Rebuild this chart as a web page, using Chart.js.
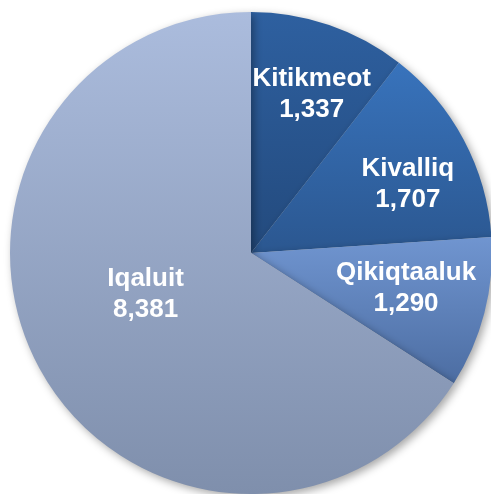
<!DOCTYPE html>
<html>
<head>
<meta charset="utf-8">
<script src="https://cdn.jsdelivr.net/npm/chart.js@4/dist/chart.umd.min.js"></script>
<style>
html,body{margin:0;padding:0;background:#fff;overflow:hidden;width:491px;height:494px;}
#wrap{position:absolute;left:0;top:0;width:502px;height:506px;}
</style>
</head>
<body>
<div id="wrap"><canvas id="c" width="502" height="506"></canvas></div>
<script>
const categories = ["Kitikmeot", "Kivalliq", "Qikiqtaaluk", "Iqaluit"];
const values = [1337, 1707, 1290, 8381];
const valueLabels = ["1,337", "1,707", "1,290", "8,381"];

const topColors = ["#2e60a0", "#3873bc", "#7095d0", "#abbcdd"];
const bottomColors = ["#234a7d", "#2b5790", "#4c6da2", "#7f8fac"];
// label placement: angle tweak (deg) and radius fraction
const labelPlace = [[2, 0.705], [4.4, 0.71], [-1.5, 0.66], [7.2, 0.47]];

function sliceBox(chart, i) {
  const a = chart.chartArea;
  const cx = (a.left + a.right) / 2, cy = (a.top + a.bottom) / 2;
  const r = Math.min(a.right - a.left, a.bottom - a.top) / 2;
  const total = values.reduce((s, v) => s + v, 0);
  let start = 0;
  for (let k = 0; k < i; k++) start += values[k] / total * 2 * Math.PI;
  const end = start + values[i] / total * 2 * Math.PI;
  const ys = [cy, cy - r * Math.cos(start), cy - r * Math.cos(end)];
  if (start <= Math.PI && end >= Math.PI) ys.push(cy + r);
  if (start <= 0) ys.push(cy - r);
  if (end >= 2 * Math.PI) ys.push(cy - r);
  return { top: Math.min(...ys), bottom: Math.max(...ys), cx, cy, r, start, end };
}

function bg(ctx) {
  const chart = ctx.chart;
  if (!chart.chartArea) return topColors[ctx.dataIndex];
  const b = sliceBox(chart, ctx.dataIndex);
  const g = chart.ctx.createLinearGradient(0, b.top, 0, b.bottom);
  g.addColorStop(0, topColors[ctx.dataIndex]);
  g.addColorStop(1, bottomColors[ctx.dataIndex]);
  return g;
}

const shadowPlugin = {
  id: 'shadow',
  beforeDatasetsDraw(chart) {
    const c = chart.ctx;
    c.save();
    c.shadowColor = 'rgba(0,0,0,0.35)';
    c.shadowBlur = 8;
    c.shadowOffsetX = 3;
    c.shadowOffsetY = 3;
  },
  afterDatasetsDraw(chart) {
    chart.ctx.restore();
  }
};

const labelPlugin = {
  id: 'labels',
  afterDraw(chart) {
    const c = chart.ctx;
    c.save();
    c.fillStyle = '#ffffff';
    c.font = 'bold 26px "Liberation Sans", Arial, sans-serif';
    c.textAlign = 'center';
    c.textBaseline = 'middle';
    categories.forEach((name, i) => {
      const b = sliceBox(chart, i);
      const mid = (b.start + b.end) / 2 + labelPlace[i][0] * Math.PI / 180;
      const d = labelPlace[i][1] * b.r;
      const x = b.cx + d * Math.sin(mid);
      const y = b.cy - d * Math.cos(mid);
      c.fillText(name, x, y - 15.5);
      c.fillText(valueLabels[i], x, y + 15.5);
    });
    c.restore();
  }
};

new Chart(document.getElementById('c'), {
  type: 'pie',
  data: {
    labels: categories,
    datasets: [{
      data: values,
      backgroundColor: bg,
      borderWidth: 0
    }]
  },
  plugins: [shadowPlugin, labelPlugin],
  options: {
    responsive: false,
    animation: false,
    layout: { padding: { left: 10, right: 10, top: 12, bottom: 12 } },
    plugins: { legend: { display: false }, tooltip: { enabled: false } }
  }
});
</script>
</body>
</html>
